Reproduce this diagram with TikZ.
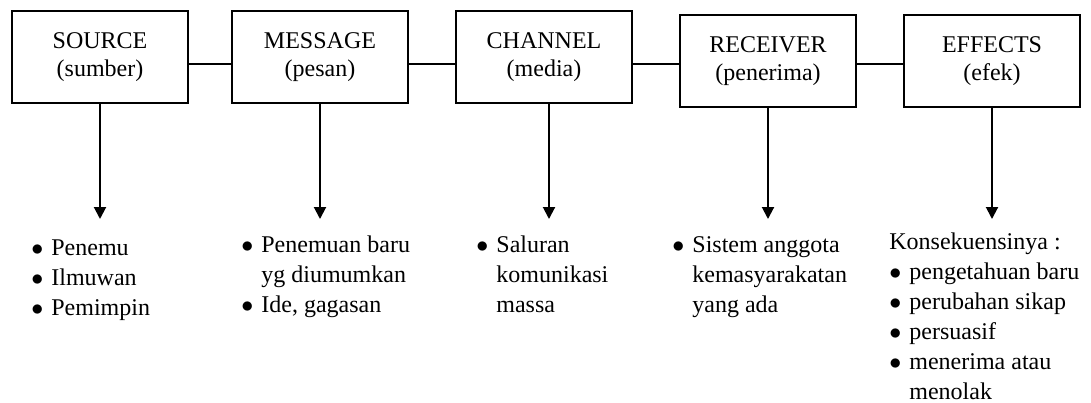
\documentclass[tikz,border=0pt]{standalone}
\usepackage{fontspec}
\setmainfont{Liberation Serif}
\usetikzlibrary{positioning,arrows.meta}

\newcommand{\bitem}{\makebox[10pt][l]{$\bullet$}}
\newcommand{\bcont}{\hspace*{10pt}}

\begin{document}
\begin{tikzpicture}[
    x=0.5pt, y=-0.5pt,
    node distance=23pt,
    block/.style={rectangle, draw, line width=1pt, minimum width=88pt, minimum height=46pt, align=center, font=\fontsize{12pt}{14pt}\selectfont},
    itemlist/.style={anchor=north west, inner sep=0pt, align=left, font=\fontsize{12pt}{15pt}\selectfont},
    link/.style={line width=1pt},
    arrow/.style={-{Triangle[width=6pt,length=6pt]}, line width=1pt}
]
\useasboundingbox (0,0) rectangle (1091,402);

% Boxes
\node[block] (source) at (100,57) {SOURCE\\(sumber)};
\node[block, right=21pt of source] (message) {MESSAGE\\(pesan)};
\node[block, right=of message] (channel) {CHANNEL\\(media)};
\node[block, right=of channel, yshift=-2pt] (receiver) {RECEIVER\\(penerima)};
\node[block, right=of receiver] (effects) {EFFECTS\\(efek)};

% Lines between boxes
\coordinate (level) at (0,64);
\draw[link] (source.east |- level) -- (message.west |- level);
\draw[link] (message.east |- level) -- (channel.west |- level);
\draw[link] (channel.east |- level) -- (receiver.west |- level);
\draw[link] (receiver.east |- level) -- (effects.west |- level);

% Lists
\node[itemlist] (source-list) at (31,234) {\strut\bitem Penemu\\ \bitem Ilmuwan\\ \bitem Pemimpin};
\node[itemlist] (message-list) at (241,231) {\strut\bitem Penemuan baru\\ \bcont yg diumumkan\\ \bitem Ide, gagasan};
\node[itemlist] (channel-list) at (476,231) {\strut\bitem Saluran\\ \bcont komunikasi\\ \bcont massa};
\node[itemlist] (receiver-list) at (672,231) {\strut\bitem Sistem anggota\\ \bcont kemasyarakatan\\ \bcont yang ada};
\node[itemlist] (effects-list) at (889,228) {\strut Konsekuensinya :\\ \bitem pengetahuan baru\\ \bitem perubahan sikap\\ \bitem persuasif\\ \bitem menerima atau\\ \bcont menolak};

% Arrows
\coordinate (tip) at (0,219);
\draw[arrow] (source.south) -- (source.south |- tip);
\draw[arrow] (message.south) -- (message.south |- tip);
\draw[arrow] ([xshift=2.5pt]channel.south) -- ([xshift=2.5pt]channel.south |- tip);
\draw[arrow] (receiver.south) -- (receiver.south |- tip);
\draw[arrow] (effects.south) -- (effects.south |- tip);

\end{tikzpicture}
\end{document}
